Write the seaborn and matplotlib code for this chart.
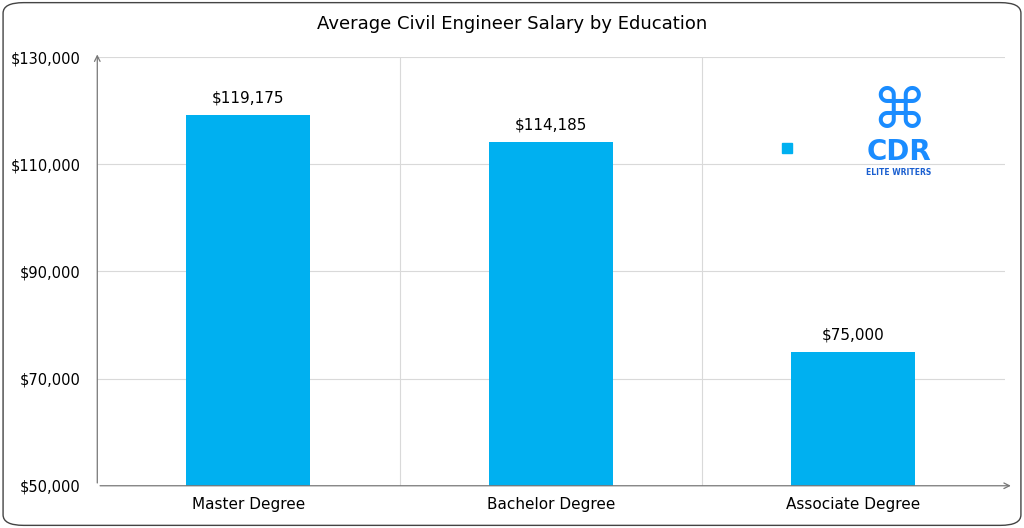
import matplotlib.pyplot as plt
import seaborn as sns
import pandas as pd
from matplotlib.patches import FancyBboxPatch

categories = ['Master Degree', 'Bachelor Degree', 'Associate Degree']
salaries = [119175, 114185, 75000]
yticks = [50000, 70000, 90000, 110000, 130000]
bar_color = '#00B0F0'

df = pd.DataFrame({'edu': categories, 'salary': salaries})

fig = plt.figure(figsize=(10.24, 5.28), dpi=100)
fig.patches.append(FancyBboxPatch((0.003, 0.005), 0.994, 0.99, boxstyle='round,pad=0,rounding_size=0.02',
                                  transform=fig.transFigure, fc='white', ec='#444444', lw=1, zorder=-10))
ax = fig.add_axes([0.095, 0.080, 0.886, 0.812])
ax.patch.set_alpha(0)
sns.barplot(data=df, x='edu', y='salary', color=bar_color, width=0.41, saturation=1, ax=ax)

ax.set_ylim(50000, 130000)
ax.set_xlim(-0.5, 2.5)
ax.set_yticks(yticks)
ax.set_yticklabels([f'${v:,.0f}' for v in yticks], fontsize=10.5)
ax.tick_params(axis='x', labelsize=11, length=0, pad=8)
ax.tick_params(axis='y', length=0, pad=12)
ax.set_xlabel('')
ax.set_ylabel('')
for s in ['top', 'right', 'left', 'bottom']:
    ax.spines[s].set_visible(False)
for y in yticks[1:]:
    ax.axhline(y, color='#d9d9d9', lw=0.8, zorder=0)
for x in [0.5, 1.5]:
    ax.axvline(x, color='#d9d9d9', lw=0.8, zorder=0)
ax.annotate('', xy=(2.53, 50000), xytext=(-0.5, 50000),
            arrowprops=dict(arrowstyle='->', color='#777777', lw=0.9), annotation_clip=False)
ax.annotate('', xy=(-0.5, 131000), xytext=(-0.5, 50000),
            arrowprops=dict(arrowstyle='->', color='#777777', lw=0.9), annotation_clip=False)

for i, v in enumerate(salaries):
    ax.text(i, v + 1800, f'${v:,.0f}', ha='center', va='bottom', fontsize=11)

# logo area
ax.plot([1.78], [113000], marker='s', color=bar_color, markersize=7)
ax.text(2.15, 119500, '⌘', color='#1a8cff', fontsize=40, ha='center', va='center')
ax.text(2.15, 112300, 'CDR', color='#1a8cff', fontsize=20, ha='center', va='center', fontweight='bold')
ax.text(2.15, 108400, 'ELITE WRITERS', color='#1a5fd0', fontsize=5.5, ha='center', va='center', fontweight='bold')

fig.text(0.5, 0.955, 'Average Civil Engineer Salary by Education', ha='center', va='center', fontsize=13)
fig.savefig('out.png', dpi=100)
